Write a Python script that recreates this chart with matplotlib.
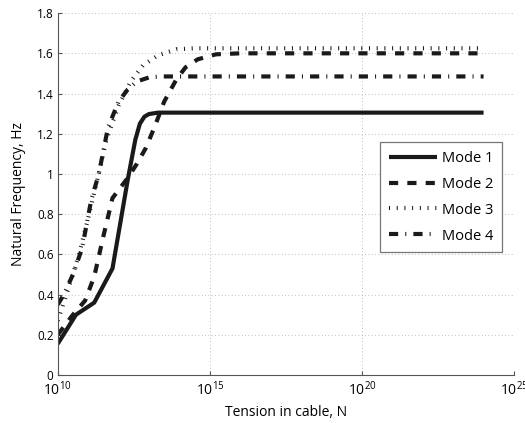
import numpy as np
import matplotlib
matplotlib.use("Agg")
import matplotlib.pyplot as plt
from matplotlib.ticker import FixedLocator, FormatStrFormatter, NullLocator

# log10 of tension (N) and natural frequency (Hz) for each mode
mode1_logT = [10.0, 10.6, 11.2, 11.8, 12.3, 12.55, 12.7, 12.85, 13.0, 13.3, 24.0]
mode1_f = [0.155, 0.30, 0.36, 0.53, 0.97, 1.17, 1.25, 1.285, 1.298, 1.305, 1.305]

mode2_logT = [10.0, 10.5, 10.9, 11.2, 11.5, 11.8, 12.3, 12.6, 12.9, 13.2, 13.5, 13.9, 14.2, 14.6, 15.2, 16.0, 24.0]
mode2_f = [0.20, 0.30, 0.37, 0.49, 0.69, 0.88, 0.98, 1.05, 1.13, 1.24, 1.36, 1.47, 1.53, 1.57, 1.595, 1.60, 1.60]

mode3_logT = [10.0, 10.35, 10.7, 11.0, 11.3, 11.6, 12.0, 12.4, 12.8, 13.3, 13.9, 14.5, 24.0]
mode3_f = [0.27, 0.43, 0.60, 0.78, 0.97, 1.17, 1.34, 1.46, 1.54, 1.59, 1.62, 1.625, 1.625]

mode4_logT = [10.0, 10.2, 10.5, 10.8, 11.1, 11.35, 11.65, 12.0, 12.3, 12.6, 13.0, 13.4, 24.0]
mode4_f = [0.35, 0.40, 0.50, 0.63, 0.87, 1.00, 1.23, 1.36, 1.42, 1.46, 1.48, 1.485, 1.485]

labels = ["Mode 1", "Mode 2", "Mode 3", "Mode 4"]
xticks = [1e10, 1e15, 1e20, 1e25]
yticks = [0, 0.2, 0.4, 0.6, 0.8, 1.0, 1.2, 1.4, 1.6, 1.8]

plt.rcParams['font.family'] = ['Open Sans', 'DejaVu Sans']
plt.rcParams['mathtext.fontset'] = 'custom'
plt.rcParams['mathtext.rm'] = 'Open Sans'
plt.rcParams['mathtext.it'] = 'Open Sans'

fig = plt.figure(figsize=(5.25, 4.23), dpi=100)
ax = fig.add_axes([0.11, 0.1135, 0.869, 0.8555])

lw = 3.0
styles = [
    dict(linestyle='-'),
    dict(linestyle=(0, (2.2, 2.2))),
    dict(linestyle=(0, (0.25, 1.6))),
    dict(linestyle=(0, (2.2, 1.7, 0.25, 1.7))),
]
data = [(mode1_logT, mode1_f), (mode2_logT, mode2_f), (mode3_logT, mode3_f), (mode4_logT, mode4_f)]
for (lt, f), st, lab in zip(data, styles, labels):
    ax.plot(10 ** np.array(lt), f, color='#1a1a1a', lw=lw, label=lab,
            dash_capstyle='butt', solid_capstyle='butt', **st)

ax.set_xscale('log')
ax.set_xlim(1e10, 1e25)
ax.set_ylim(0, 1.8)
ax.xaxis.set_major_locator(FixedLocator(xticks))
ax.xaxis.set_minor_locator(NullLocator())
ax.yaxis.set_major_locator(FixedLocator(yticks))
ax.yaxis.set_major_formatter(FormatStrFormatter('%g'))

ax.grid(True, linestyle=(0, (1, 3)), color='#aaaaaa', lw=0.6)
for s in ['top', 'right']:
    ax.spines[s].set_visible(False)
for s in ['left', 'bottom']:
    ax.spines[s].set_color('#555555')
    ax.spines[s].set_linewidth(0.8)
ax.tick_params(direction='in', length=3, color='#555555', labelsize=8.5, pad=3)
ax.tick_params(axis='x', labelsize=10, pad=4)

ax.set_xlabel('Tension in cable, N', fontsize=10, labelpad=4)
ax.set_ylabel('Natural Frequency, Hz', fontsize=10, labelpad=8)

leg = ax.legend(loc='upper left', bbox_to_anchor=(0.706, 0.644), borderaxespad=0,
                fontsize=10.5, fancybox=False, framealpha=1, edgecolor='#777777',
                handlelength=3.3, borderpad=0.6, labelspacing=0.75, handletextpad=0.35)
leg.get_frame().set_linewidth(0.9)

fig.savefig('out.png', dpi=100)
